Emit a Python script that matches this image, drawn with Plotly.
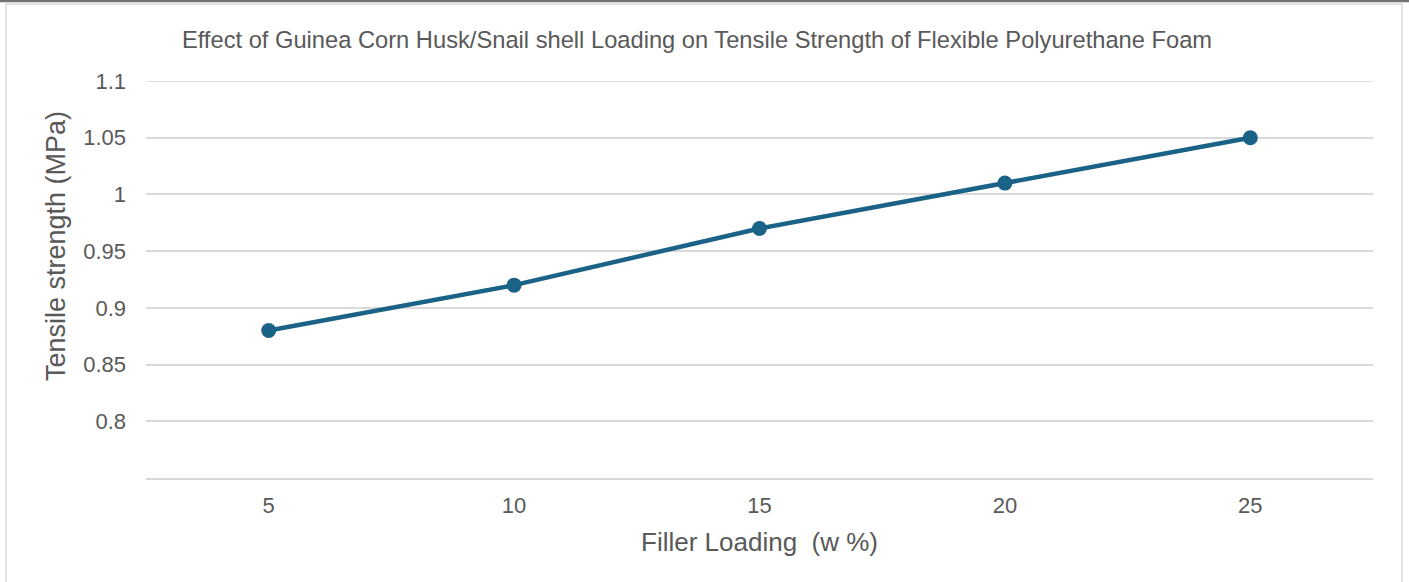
import plotly.graph_objects as go

# Data
filler_loading = ["5", "10", "15", "20", "25"]
tensile_strength = [0.88, 0.92, 0.97, 1.01, 1.05]
y_tick_vals = [0.8, 0.85, 0.9, 0.95, 1.0, 1.05, 1.1]
y_tick_text = ["0.8", "0.85", "0.9", "0.95", "1", "1.05", "1.1"]
y_range = [0.75, 1.1]

W, H = 1409, 582
L, R, T, B = 146, 1373, 81, 478  # plot area in pixels

def px(x):
    return (x - L) / (R - L)

def py(y):
    return (B - y) / (B - T)

FONT = "Liberation Sans, Arial, sans-serif"
TXT = "#595959"
GRID = "#d9d9d9"

fig = go.Figure()
fig.add_trace(go.Scatter(
    x=filler_loading, y=tensile_strength,
    mode="lines+markers",
    line=dict(color="#1b6386", width=4.5),
    marker=dict(color="#1b6386", size=15),
    showlegend=False,
))

fig.update_layout(
    width=W, height=H,
    margin=dict(l=L, r=W - R, t=T, b=H - B, autoexpand=False),
    paper_bgcolor="white", plot_bgcolor="white",
    font=dict(family=FONT, color=TXT),
    title=dict(
        text="Effect of Guinea Corn Husk/Snail shell Loading on Tensile Strength of Flexible Polyurethane Foam",
        x=697 / W, xanchor="center", xref="container",
        y=1 - 40 / H, yanchor="middle", yref="container",
        font=dict(size=23.7, color=TXT, family=FONT),
    ),
    xaxis=dict(
        type="category",
        range=[-0.5, len(filler_loading) - 0.5],
        showgrid=False, zeroline=False,
        showline=True, linecolor=GRID, linewidth=1.5,
        ticks="", tickfont=dict(size=22, color=TXT),
        ticklabelstandoff=7,
        title=dict(text="Filler Loading  (w %)", font=dict(size=26, color=TXT), standoff=16),
    ),
    yaxis=dict(
        range=y_range,
        tickvals=y_tick_vals, ticktext=y_tick_text,
        showgrid=True, gridcolor=GRID, gridwidth=1.5,
        zeroline=False, showline=False,
        ticks="", tickfont=dict(size=22, color=TXT),
        ticklabelstandoff=19,
    ),
    annotations=[dict(
        text="Tensile strength (MPa)", textangle=-90,
        xref="paper", yref="paper", x=px(56), y=py(246),
        xanchor="center", yanchor="middle", showarrow=False,
        font=dict(size=27, color=TXT, family=FONT),
    )],
    shapes=[
        # top gridline (plotly clips gridlines at the range edge)
        dict(type="line", xref="paper", yref="y",
             x0=0, x1=1, y0=y_tick_vals[-1], y1=y_tick_vals[-1],
             line=dict(color=GRID, width=1.5), layer="below"),
        dict(type="rect", xref="paper", yref="paper",
             x0=px(6), x1=px(1402), y0=py(600), y1=py(4),
             line=dict(color=GRID, width=1.5), fillcolor="rgba(0,0,0,0)", layer="below"),
        dict(type="line", xref="paper", yref="paper",
             x0=px(0), x1=px(1409), y0=py(1), y1=py(1),
             line=dict(color="#737373", width=2.5)),
    ],
)

fig.write_html("out.html", config={"displayModeBar": False},
               post_script="document.body.style.margin='0px';")
